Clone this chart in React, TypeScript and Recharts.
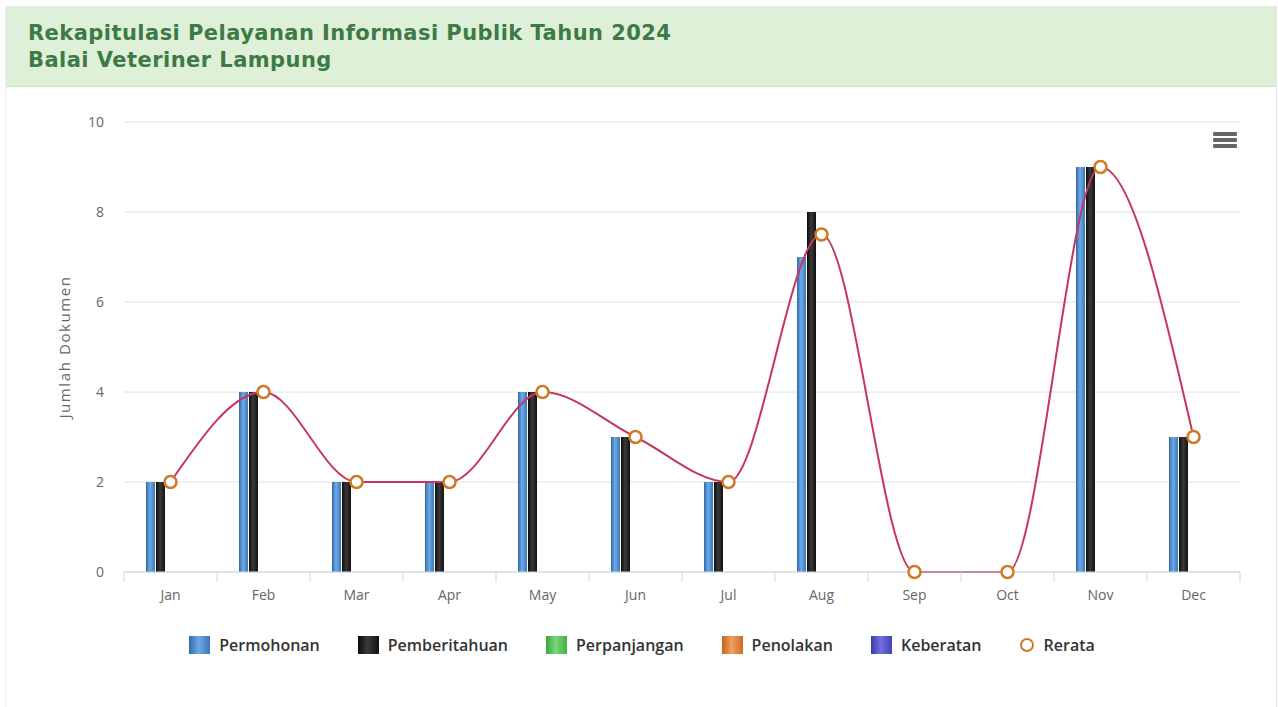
import {
  ComposedChart,
  Bar,
  Line,
  XAxis,
  YAxis,
  CartesianGrid,
  Legend,
} from 'recharts';

const bulan = ['Jan', 'Feb', 'Mar', 'Apr', 'May', 'Jun', 'Jul', 'Aug', 'Sep', 'Oct', 'Nov', 'Dec'];
const permohonan = [2, 4, 2, 2, 4, 3, 2, 7, 0, 0, 9, 3];
const pemberitahuan = [2, 4, 2, 2, 4, 3, 2, 8, 0, 0, 9, 3];
const perpanjangan = [0, 0, 0, 0, 0, 0, 0, 0, 0, 0, 0, 0];
const penolakan = [0, 0, 0, 0, 0, 0, 0, 0, 0, 0, 0, 0];
const keberatan = [0, 0, 0, 0, 0, 0, 0, 0, 0, 0, 0, 0];
const rerata = [2, 4, 2, 2, 4, 3, 2, 7.5, 0, 0, 9, 3];
const yTicks = [0, 2, 4, 6, 8, 10];

const data = bulan.map((b, i) => ({
  bulan: b,
  permohonan: permohonan[i],
  pemberitahuan: pemberitahuan[i],
  perpanjangan: perpanjangan[i],
  penolakan: penolakan[i],
  keberatan: keberatan[i],
  rerata: rerata[i],
}));

const seri = [
  { key: 'permohonan', nama: 'Permohonan', grad: 'gBiru', warna: ['#2f6aa6', '#6eaae6', '#3a78b8'] },
  { key: 'pemberitahuan', nama: 'Pemberitahuan', grad: 'gHitam', warna: ['#0a0a0a', '#3a3a3a', '#111111'] },
  { key: 'perpanjangan', nama: 'Perpanjangan', grad: 'gHijau', warna: ['#3aa63a', '#7ad67a', '#44b044'] },
  { key: 'penolakan', nama: 'Penolakan', grad: 'gOranye', warna: ['#c8601a', '#f0a060', '#d06a22'] },
  { key: 'keberatan', nama: 'Keberatan', grad: 'gUngu', warna: ['#3a3aa6', '#7070e0', '#4444b8'] },
];

const font = '"Open Sans", "DejaVu Sans", sans-serif';

function TickBulan(props: any) {
  const { x, y, payload, index, visibleTicksCount } = props;
  const half = payload.offset || 0;
  return (
    <g>
      <line x1={x - half} y1={y - 8} x2={x - half} y2={y + 2} stroke="#ccd6eb" />
      {index === visibleTicksCount - 1 && (
        <line x1={x + half} y1={y - 8} x2={x + half} y2={y + 2} stroke="#ccd6eb" />
      )}
      <text x={x} y={y + 20} textAnchor="middle" fill="#666" fontSize={14} fontFamily={font}>
        {payload.value}
      </text>
    </g>
  );
}

function Legenda() {
  return (
    <div
      style={{
        display: 'flex',
        justifyContent: 'center',
        alignItems: 'center',
        gap: 38,
        height: 24,
        fontFamily: font,
        fontSize: 16,
        fontWeight: 600,
        color: '#333',
        paddingRight: 20,
      }}
    >
      {seri.map((s) => (
        <div key={s.key} style={{ display: 'flex', alignItems: 'center' }}>
          <span
            style={{
              width: 21,
              height: 18,
              marginRight: 9,
              background: `linear-gradient(to right, ${s.warna[0]}, ${s.warna[1]} 45%, ${s.warna[2]})`,
            }}
          />
          {s.nama}
        </div>
      ))}
      <div style={{ display: 'flex', alignItems: 'center' }}>
        <span
          style={{
            width: 10,
            height: 10,
            borderRadius: '50%',
            border: '2.5px solid #d07a26',
            marginRight: 10,
            background: '#fff',
          }}
        />
        Rerata
      </div>
    </div>
  );
}

function App() {
  const judul: React.CSSProperties = {
    fontFamily: '"DejaVu Sans", sans-serif',
    fontWeight: 700,
    fontSize: 21,
    letterSpacing: 0.45,
    lineHeight: '27px',
    height: 27,
    color: '#3e7a45',
    whiteSpace: 'nowrap',
  };
  return (
    <div style={{ position: 'absolute', left: 0, top: 0, width: 1278, height: 707, background: '#fff' }}>
      <div
        style={{
          position: 'absolute',
          left: 5,
          top: 6,
          width: 1270,
          height: 701,
          borderRight: '1px solid #e6e6e6',
          borderLeft: '1px solid #eeeeee',
        }}
      >
        <div
          style={{
            height: 81,
            background: '#dff0d8',
            borderBottom: '1px solid #d0e6c6',
            boxSizing: 'border-box',
            padding: '14px 0 0 22px',
          }}
        >
          <div style={judul}>Rekapitulasi Pelayanan Informasi Publik Tahun 2024</div>
          <div style={judul}>Balai Veteriner Lampung</div>
        </div>
        <div style={{ position: 'relative' }}>
          <ComposedChart
            width={1270}
            height={619}
            data={data}
            margin={{ top: 35, right: 36, left: 58, bottom: 49 }}
            barCategoryGap={22}
            barGap={1}
          >
            <defs>
              {seri.map((s) => (
                <linearGradient key={s.grad} id={s.grad} x1="0" y1="0" x2="1" y2="0">
                  <stop offset="0%" stopColor={s.warna[0]} />
                  <stop offset="45%" stopColor={s.warna[1]} />
                  <stop offset="100%" stopColor={s.warna[2]} />
                </linearGradient>
              ))}
            </defs>
            <CartesianGrid vertical={false} stroke="#e0e0e0" />
            <XAxis
              dataKey="bulan"
              height={61}
              axisLine={{ stroke: '#ccd6eb' }}
              tickLine={false}
              tick={<TickBulan />}
              interval={0}
            />
            <YAxis
              width={60}
              domain={[0, 10]}
              ticks={yTicks}
              axisLine={false}
              tickLine={false}
              tickMargin={14}
              tick={{ fill: '#666', fontSize: 14, fontFamily: font }}
              label={(p: any) => {
                const vb = p.viewBox;
                const cx = vb.x + 6;
                const cy = vb.y + vb.height / 2;
                return (
                  <text
                    x={cx}
                    y={cy}
                    transform={`rotate(-90 ${cx} ${cy})`}
                    textAnchor="middle"
                    fill="#666"
                    fontSize={15}
                    letterSpacing={1.6}
                    fontFamily={font}
                  >
                    Jumlah Dokumen
                  </text>
                );
              }}
            />
            {seri.map((s) => (
              <Bar key={s.key} dataKey={s.key} name={s.nama} fill={`url(#${s.grad})`} isAnimationActive={false} />
            ))}
            <Line
              type="monotone"
              dataKey="rerata"
              name="Rerata"
              stroke="#c63660"
              strokeWidth={2}
              dot={{ r: 6, fill: '#fff', stroke: '#d07a26', strokeWidth: 2.5 }}
              activeDot={false}
              isAnimationActive={false}
            />
            <Legend verticalAlign="bottom" content={() => <Legenda />} />
          </ComposedChart>
          <div style={{ position: 'absolute', left: 1207, top: 45, width: 24 }}>
            {[0, 1, 2].map((i) => (
              <div key={i} style={{ height: 4, background: '#666', marginBottom: 2, borderRadius: 1 }} />
            ))}
          </div>
        </div>
      </div>
    </div>
  );
}

export default App;
